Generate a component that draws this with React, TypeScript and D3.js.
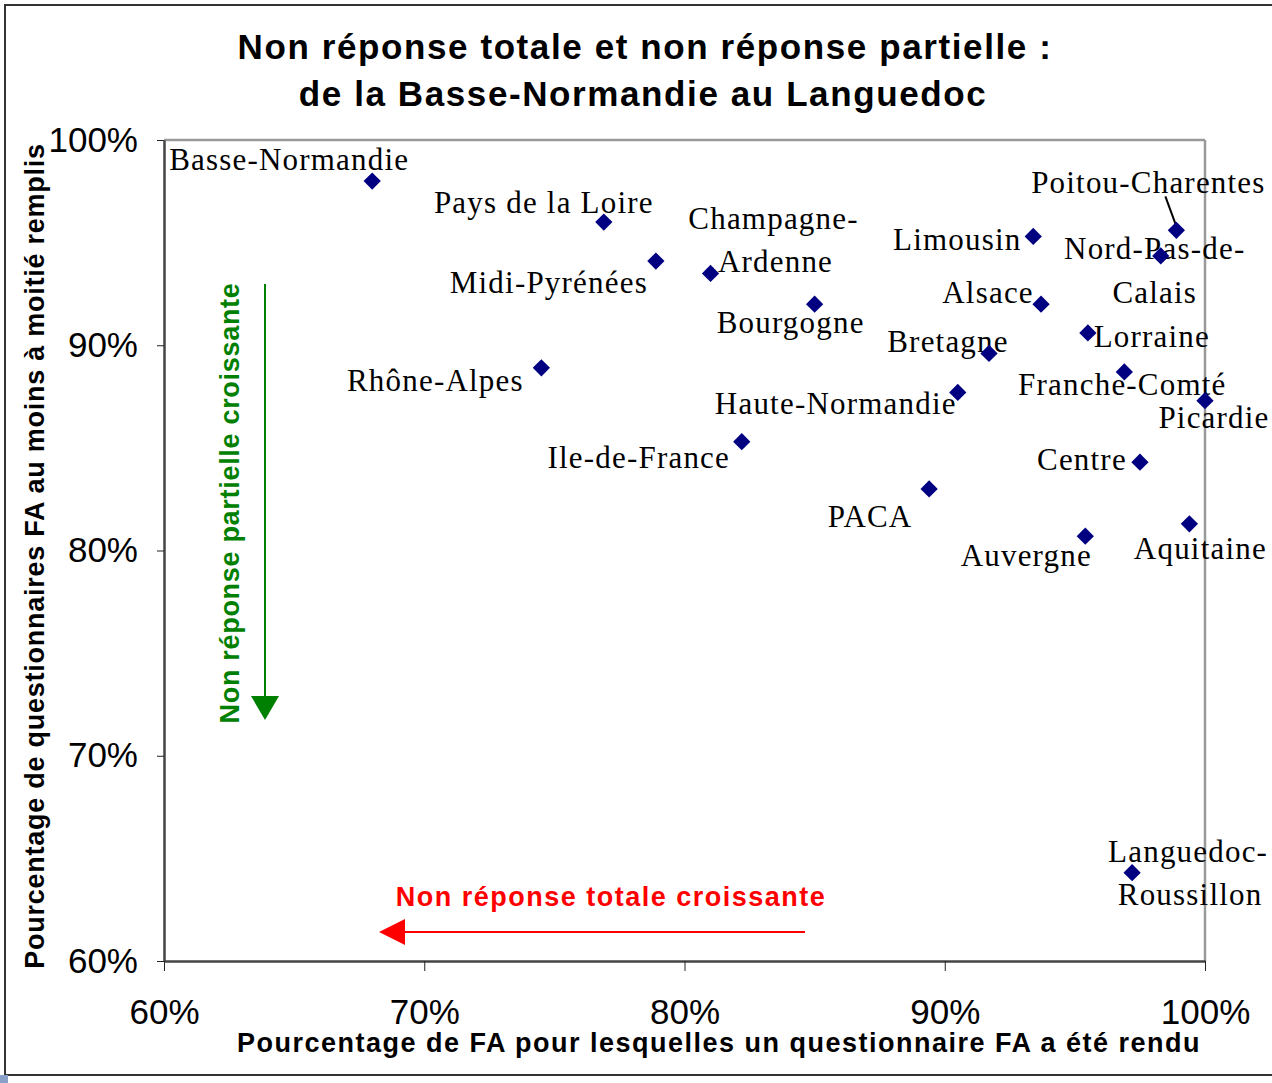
import React, { useEffect, useRef } from "react";
import * as d3 from "d3";

// regions, x = % of FA with a returned questionnaire, y = % of questionnaires at least half filled
const regions = [
  "Basse-Normandie", "Pays de la Loire", "Midi-Pyrénées", "Champagne-Ardenne", "Bourgogne",
  "Rhône-Alpes", "Ile-de-France", "Haute-Normandie", "PACA", "Limousin", "Alsace", "Bretagne",
  "Poitou-Charentes", "Nord-Pas-de-Calais", "Lorraine", "Franche-Comté", "Picardie", "Centre",
  "Auvergne", "Aquitaine", "Languedoc-Roussillon"
];
const totalRate = [68.0, 76.9, 78.9, 81.0, 85.0, 74.5, 82.2, 90.5, 89.4, 93.4, 93.7, 91.7, 98.9, 98.3, 95.5, 96.9, 100.0, 97.5, 95.4, 99.4, 97.2];
const partialRate = [98.0, 96.0, 94.1, 93.5, 92.0, 88.9, 85.3, 87.7, 83.0, 95.3, 92.0, 89.6, 95.6, 94.35, 90.6, 88.7, 87.3, 84.3, 80.7, 81.3, 64.3];
const xTicks = [60, 70, 80, 90, 100];
const yTicks = [60, 70, 80, 90, 100];

// label placement relative to each marker: [text, dx, dy] (middle anchored, baseline)
const labelLayout: [string, number, number][][] = [
  [["Basse-Normandie", -83, -11]],
  [["Pays de la Loire", -60, -9]],
  [["Midi-Pyrénées", -107, 32]],
  [["Champagne-", 63, -44], ["Ardenne", 65, -1]],
  [["Bourgogne", -24, 29]],
  [["Rhône-Alpes", -106, 23]],
  [["Ile-de-France", -103, 26]],
  [["Haute-Normandie", -122, 22]],
  [["PACA", -59, 38]],
  [["Limousin", -76, 14]],
  [["Alsace", -53, -1]],
  [["Bretagne", -41, -1]],
  [["Poitou-Charentes", -28, -37]],
  [["Nord-Pas-de-", -6, 3], ["Calais", -6, 47]],
  [["Lorraine", 64, 14]],
  [["Franche-Comté", -2, 23]],
  [["Picardie", 9, 27]],
  [["Centre", -58, 8]],
  [["Auvergne", -59, 30]],
  [["Aquitaine", 11, 35]],
  [["Languedoc-", 56, -11], ["Roussillon", 58, 32]]
];

const W = 1272;
const H = 1083;
const left = 164, right = 1205, top = 140, bottom = 961;
const sans = "'Liberation Sans', Arial, sans-serif";
const serif = "'Liberation Serif', 'Times New Roman', serif";

const App = () => {
  const xAxisRef = useRef<SVGGElement>(null);
  const yAxisRef = useRef<SVGGElement>(null);

  const x = d3.scaleLinear().domain([60, 100]).range([left, right]);
  const y = d3.scaleLinear().domain([60, 100]).range([bottom, top]);

  useEffect(() => {
    const xAxis = d3.axisBottom(x).tickValues(xTicks).tickFormat(d => `${d}%`)
      .tickSize(10).tickSizeOuter(0).tickPadding(28);
    const gx = d3.select(xAxisRef.current).call(xAxis);
    gx.select(".domain").attr("stroke", "#444").attr("stroke-width", 2.5);
    gx.selectAll(".tick line").attr("stroke", "#222");
    gx.selectAll(".tick text").attr("font-size", 35).attr("font-family", sans).attr("fill", "#000");

    const yAxis = d3.axisLeft(y).tickValues(yTicks).tickFormat(d => `${d}%`)
      .tickSize(7).tickSizeOuter(0).tickPadding(19);
    const gy = d3.select(yAxisRef.current).call(yAxis);
    gy.select(".domain").attr("stroke", "#444").attr("stroke-width", 2.5);
    gy.selectAll(".tick line").attr("stroke", "#222");
    gy.selectAll(".tick text").attr("font-size", 35).attr("font-family", sans).attr("fill", "#000");
  }, []);

  const diamond = d3.symbol().type(d3.symbolDiamond2).size(190)();

  return (
    <svg width={W} height={H} style={{ position: "absolute", left: 0, top: 0, background: "#fff" }}>
      <rect x={5} y={5} width={W + 10} height={1070} fill="none" stroke="#333" strokeWidth={2} />
      <rect x={0} y={1075} width={8} height={8} fill="#8aa0c8" />

      <text x={645} y={59} textAnchor="middle" fontFamily={sans} fontWeight="bold" fontSize={35} letterSpacing={1.6}>
        Non réponse totale et non réponse partielle :
      </text>
      <text x={643} y={106} textAnchor="middle" fontFamily={sans} fontWeight="bold" fontSize={35} letterSpacing={1.6}>
        de la Basse-Normandie au Languedoc
      </text>

      {/* plot frame: top and right in grey */}
      <line x1={left} x2={right} y1={top} y2={top} stroke="#999" strokeWidth={2.5} />
      <line x1={right} x2={right} y1={top} y2={bottom} stroke="#999" strokeWidth={2.5} />

      <g ref={xAxisRef} transform={`translate(0,${bottom})`} />
      <g ref={yAxisRef} transform={`translate(${left},0)`} />

      <text x={719} y={1052} textAnchor="middle" fontFamily={sans} fontWeight="bold" fontSize={27} letterSpacing={1.5}>
        Pourcentage de FA pour lesquelles un questionnaire FA a été rendu
      </text>
      <text transform="translate(44,556) rotate(-90)" textAnchor="middle" fontFamily={sans} fontWeight="bold" fontSize={27} letterSpacing={0.75}>
        Pourcentage de questionnaires FA au moins à moitié remplis
      </text>

      {/* green annotation */}
      <text transform="translate(239,503) rotate(-90)" textAnchor="middle" fontFamily={sans} fontWeight="bold" fontSize={27} letterSpacing={0.7} fill="#008000">
        Non réponse partielle croissante
      </text>
      <line x1={265} x2={265} y1={284} y2={700} stroke="#008000" strokeWidth={2} />
      <path d="M251,696 L279,696 L265,720 Z" fill="#008000" />

      {/* red annotation */}
      <text x={611} y={906} textAnchor="middle" fontFamily={sans} fontWeight="bold" fontSize={27} fill="#ff0000" letterSpacing={1.5}>
        Non réponse totale croissante
      </text>
      <line x1={805} x2={400} y1={932} y2={932} stroke="#ff0000" strokeWidth={2} />
      <path d="M379,932 L405,919 L405,945 Z" fill="#ff0000" />

      {/* Poitou-Charentes leader */}
      <line x1={x(totalRate[12]) - 11} y1={y(partialRate[12]) - 34} x2={x(totalRate[12])} y2={y(partialRate[12]) - 4} stroke="#000" strokeWidth={2} />

      {regions.map((r, i) => (
        <g key={r}>
          {labelLayout[i].map(([t, dx, dy]) => (
            <text key={t} x={x(totalRate[i]) + dx} y={y(partialRate[i]) + dy} textAnchor="middle"
              fontFamily={serif} fontSize={31} letterSpacing={1.2} fill="#000">
              {t}
            </text>
          ))}
        </g>
      ))}
      {regions.map((r, i) => (
        <path key={r} d={diamond!} transform={`translate(${x(totalRate[i])},${y(partialRate[i])})`} fill="#000080" />
      ))}
    </svg>
  );
};

export default App;
